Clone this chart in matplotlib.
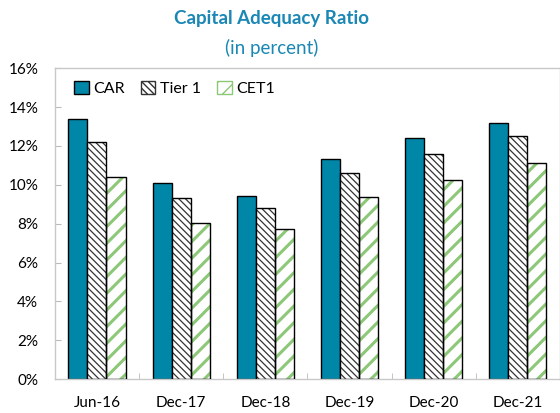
import matplotlib
matplotlib.use("Agg")
import matplotlib.pyplot as plt
import numpy as np
from matplotlib.patches import Patch
from matplotlib.ticker import FuncFormatter, MultipleLocator

plt.rcParams["font.family"] = ["Lato", "DejaVu Sans"]

categories = ["Jun-16", "Dec-17", "Dec-18", "Dec-19", "Dec-20", "Dec-21"]
car = [13.4, 10.1, 9.4, 11.3, 12.4, 13.2]
tier1 = [12.2, 9.3, 8.8, 10.6, 11.6, 12.5]
cet1 = [10.4, 8.05, 7.7, 9.35, 10.25, 11.1]

BLUE = "#0087A8"
GREEN = "#8CC878"
TITLE = "#1A87B5"
T1_HATCH = "\\" * 5

fig = plt.figure(figsize=(5.6, 4.13), dpi=100)
ax = fig.add_axes([0.098, 0.082, 0.902, 0.753])

x = np.arange(len(categories))
w = 0.226

ax.bar(x - w, car, w, color=BLUE, edgecolor="black", linewidth=1.0, zorder=2)

t = ax.bar(x, tier1, w, color="white", edgecolor="#333333", hatch=T1_HATCH,
           linewidth=0, zorder=2)
for p in t:
    if hasattr(p, "set_hatch_linewidth"):
        p.set_hatch_linewidth(0.9)
ax.bar(x, tier1, w, fill=False, edgecolor="black", linewidth=1.0, zorder=3)

c = ax.bar(x + w, cet1, w, color="white", edgecolor=GREEN, hatch="//",
           linewidth=0, zorder=2)
for p in c:
    if hasattr(p, "set_hatch_linewidth"):
        p.set_hatch_linewidth(2.2)
ax.bar(x + w, cet1, w, fill=False, edgecolor="black", linewidth=1.0, zorder=3)

ax.set_xlim(-0.5, len(categories) - 0.5)
ax.set_ylim(0, 16)
ax.yaxis.set_major_locator(MultipleLocator(2))
ax.yaxis.set_major_formatter(FuncFormatter(lambda v, _: f"{v:.0f}%"))
ax.set_xticks(x)
ax.set_xticklabels(categories)
ax.set_xticks(np.arange(-0.5, len(categories)), minor=True)
ax.tick_params(axis="x", which="major", length=0, pad=12, labelsize=11)
ax.tick_params(axis="x", which="minor", length=4, direction="in", color="#BBBBBB")
ax.tick_params(axis="y", length=4, direction="in", color="#BBBBBB", pad=12, labelsize=11)

for s in ax.spines.values():
    s.set_color("#C8C8C8")
    s.set_linewidth(1.0)

handles = [
    Patch(facecolor=BLUE, edgecolor="black", label="CAR"),
    Patch(facecolor="white", edgecolor="#333333", hatch=T1_HATCH, label="Tier 1"),
    Patch(facecolor="white", edgecolor=GREEN, hatch="//", label="CET1"),
]
ax.legend(handles=handles, loc="upper left", ncol=3, frameon=False, fontsize=11.5,
          handlelength=0.9, handleheight=0.9, handletextpad=0.3, columnspacing=1.0,
          bbox_to_anchor=(0.01, 1.005))

fig.text(0.485, 0.955, "Capital Adequacy Ratio", ha="center", va="center",
         fontsize=13.5, fontweight="bold", color=TITLE)
fig.text(0.485, 0.885, "(in percent)", ha="center", va="center",
         fontsize=13.5, color=TITLE)

fig.savefig("out.png", dpi=100)
